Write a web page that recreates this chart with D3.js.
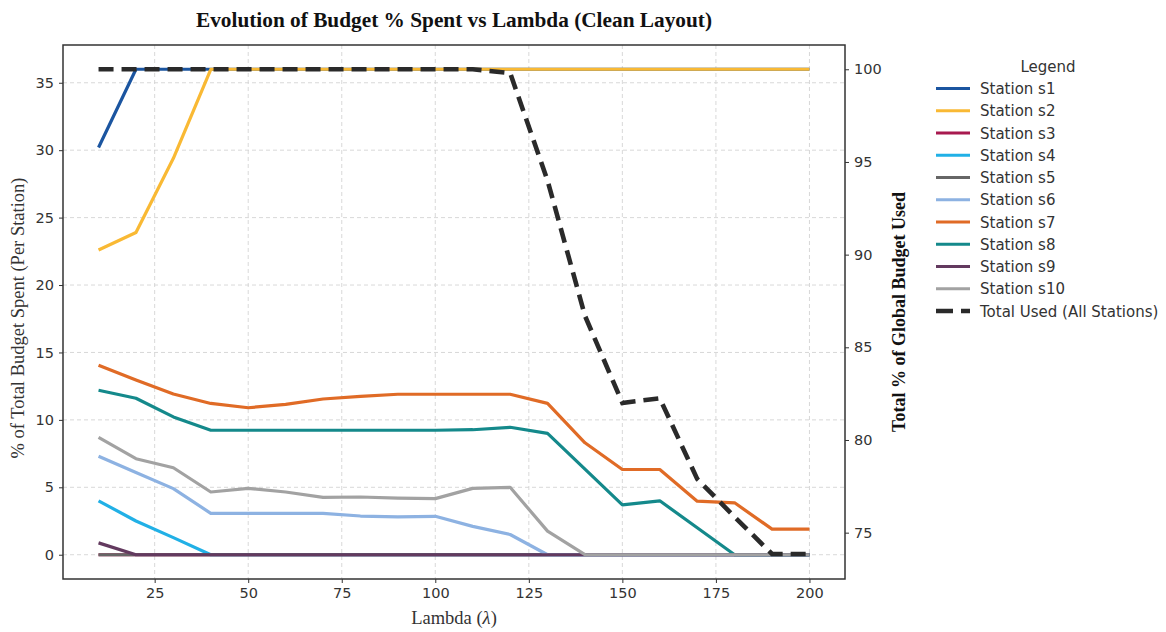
<!DOCTYPE html>
<html>
<head>
<meta charset="utf-8">
<script src="https://cdn.jsdelivr.net/npm/d3@7"></script>
<style>
  html, body { margin: 0; padding: 0; background: #fff; }
  svg { display: block; }
  .tick text { font-family: "DejaVu Sans", sans-serif; font-size: 14.5px; fill: #333; }
</style>
</head>
<body>
<svg id="chart" width="1166" height="632"></svg>
<script>
// Lambda sweep values (x axis)
const lambdas = [10, 20, 30, 40, 50, 60, 70, 80, 90, 100, 110, 120, 130, 140, 150, 160, 170, 180, 190, 200];

// % of total budget spent per station
const s1  = [30.2, 36, 36, 36, 36, 36, 36, 36, 36, 36, 36, 36, 36, 36, 36, 36, 36, 36, 36, 36];
const s2  = [22.6, 23.9, 29.4, 36, 36, 36, 36, 36, 36, 36, 36, 36, 36, 36, 36, 36, 36, 36, 36, 36];
const s3  = [0, 0, 0, 0, 0, 0, 0, 0, 0, 0, 0, 0, 0, 0, 0, 0, 0, 0, 0, 0];
const s4  = [4.0, 2.5, 1.27, 0, 0, 0, 0, 0, 0, 0, 0, 0, 0, 0, 0, 0, 0, 0, 0, 0];
const s5  = [0, 0, 0, 0, 0, 0, 0, 0, 0, 0, 0, 0, 0, 0, 0, 0, 0, 0, 0, 0];
const s6  = [7.3, 6.1, 4.9, 3.07, 3.07, 3.07, 3.07, 2.87, 2.8, 2.85, 2.1, 1.5, 0, 0, 0, 0, 0, 0, 0, 0];
const s7  = [14.05, 12.95, 11.92, 11.22, 10.9, 11.15, 11.55, 11.75, 11.9, 11.9, 11.9, 11.9, 11.22, 8.3, 6.32, 6.32, 3.97, 3.85, 1.9, 1.9];
const s8  = [12.2, 11.6, 10.22, 9.23, 9.23, 9.23, 9.23, 9.23, 9.23, 9.23, 9.27, 9.45, 9.0, 6.35, 3.7, 4.0, 2.0, 0, 0, 0];
const s9  = [0.88, 0, 0, 0, 0, 0, 0, 0, 0, 0, 0, 0, 0, 0, 0, 0, 0, 0, 0, 0];
const s10 = [8.7, 7.12, 6.45, 4.65, 4.92, 4.65, 4.25, 4.28, 4.2, 4.16, 4.92, 5.0, 1.75, 0, 0, 0, 0, 0, 0, 0];

// Total % of global budget used (right axis)
const totalUsed = [100, 100, 100, 100, 100, 100, 100, 100, 100, 100, 100, 99.8, 94.0, 86.7, 82.0, 82.25, 77.9, 75.85, 73.85, 73.85];

const stationNames = ["Station s1", "Station s2", "Station s3", "Station s4", "Station s5",
                      "Station s6", "Station s7", "Station s8", "Station s9", "Station s10"];
const stationSeries = [s1, s2, s3, s4, s5, s6, s7, s8, s9, s10];
const stationColors = ["#1b55a0", "#f9b934", "#a8194f", "#21b0e6", "#666666",
                       "#8db2e2", "#e06b26", "#14898b", "#633a5f", "#a2a2a2"];
const totalLabel = "Total Used (All Stations)";

const xTicks = [25, 50, 75, 100, 125, 150, 175, 200];
const yLeftTicks = [0, 5, 10, 15, 20, 25, 30, 35];
const yRightTicks = [75, 80, 85, 90, 95, 100];

const svg = d3.select("#chart");
const plot = { left: 63, right: 845, top: 45, bottom: 579 };

const x = d3.scaleLinear().domain([0.5, 209.5]).range([plot.left, plot.right]);
const yL = d3.scaleLinear().domain([-1.8, 37.8]).range([plot.bottom, plot.top]);
const yR = d3.scaleLinear().domain([72.5, 101.31]).range([plot.bottom, plot.top]);

// grid
const grid = svg.append("g").attr("stroke", "#d4d4d4").attr("stroke-width", 0.9)
  .attr("stroke-dasharray", "4,3");
grid.selectAll("line.v").data(xTicks).join("line")
  .attr("x1", d => x(d)).attr("x2", d => x(d))
  .attr("y1", plot.top).attr("y2", plot.bottom);
grid.selectAll("line.h").data(yLeftTicks).join("line")
  .attr("x1", plot.left).attr("x2", plot.right)
  .attr("y1", d => yL(d)).attr("y2", d => yL(d));

// station lines
const line = d3.line().x((d, i) => x(lambdas[i])).y(d => yL(d));
stationSeries.forEach((vals, k) => {
  svg.append("path").datum(vals)
    .attr("fill", "none")
    .attr("stroke", stationColors[k])
    .attr("stroke-width", 3.2)
    .attr("stroke-linejoin", "round")
    .attr("d", line);
});

// total line on the right axis
const totalLine = d3.line().x((d, i) => x(lambdas[i])).y(d => yR(d));
svg.append("path").datum(totalUsed)
  .attr("fill", "none")
  .attr("stroke", "#2a2a2a")
  .attr("stroke-width", 4.6)
  .attr("stroke-dasharray", "15,8")
  .attr("d", totalLine);

// axes
const axisX = d3.axisBottom(x).tickValues(xTicks).tickSize(4).tickPadding(5);
const axisL = d3.axisLeft(yL).tickValues(yLeftTicks).tickSize(4).tickPadding(5);
const axisR = d3.axisRight(yR).tickValues(yRightTicks).tickSize(4).tickPadding(5);

function styleAxis(g) {
  g.select(".domain").remove();
  g.selectAll(".tick line").attr("stroke", "#333").attr("stroke-width", 1);
}
svg.append("g").attr("transform", `translate(0,${plot.bottom})`).call(axisX).call(styleAxis);
svg.append("g").attr("transform", `translate(${plot.left},0)`).call(axisL).call(styleAxis);
svg.append("g").attr("transform", `translate(${plot.right},0)`).call(axisR).call(styleAxis);

// frame
svg.append("rect")
  .attr("x", plot.left).attr("y", plot.top)
  .attr("width", plot.right - plot.left).attr("height", plot.bottom - plot.top)
  .attr("fill", "none").attr("stroke", "#333").attr("stroke-width", 1.5);

// title and axis labels
svg.append("text")
  .attr("x", (plot.left + plot.right) / 2).attr("y", 27)
  .attr("text-anchor", "middle")
  .attr("font-family", "'Liberation Serif', serif").attr("font-weight", "bold")
  .attr("font-size", 22).attr("fill", "#111")
  .attr("textLength", 516).attr("lengthAdjust", "spacingAndGlyphs")
  .text("Evolution of Budget % Spent vs Lambda (Clean Layout)");

const xl = svg.append("text")
  .attr("x", (plot.left + plot.right) / 2).attr("y", 624)
  .attr("text-anchor", "middle")
  .attr("font-family", "'Liberation Serif', serif")
  .attr("font-size", 18.5).attr("fill", "#333");
xl.append("tspan").text("Lambda (");
xl.append("tspan").attr("font-style", "italic").text("λ");
xl.append("tspan").text(")");

svg.append("text")
  .attr("transform", `translate(24,318) rotate(-90)`)
  .attr("text-anchor", "middle")
  .attr("font-family", "'Liberation Serif', serif")
  .attr("font-size", 18.5).attr("fill", "#333")
  .text("% of Total Budget Spent (Per Station)");

svg.append("text")
  .attr("transform", `translate(905,312) rotate(-90)`)
  .attr("text-anchor", "middle")
  .attr("font-family", "'Liberation Serif', serif").attr("font-weight", "bold")
  .attr("font-size", 18).attr("fill", "#111")
  .text("Total % of Global Budget Used");

// legend
const legend = svg.append("g").attr("font-family", "'DejaVu Sans', sans-serif");
legend.append("text")
  .attr("x", 1048).attr("y", 72).attr("text-anchor", "middle")
  .attr("font-size", 15).attr("fill", "#333").text("Legend");

const legendItems = stationNames.map((n, i) => ({ name: n, color: stationColors[i], dash: null, w: 3.2 }))
  .concat([{ name: totalLabel, color: "#2a2a2a", dash: "17,8", w: 4.6 }]);
const rowY = d3.scaleLinear().domain([0, 10]).range([88.5, 311]);
const rows = legend.selectAll("g.row").data(legendItems).join("g")
  .attr("transform", (d, i) => `translate(0,${rowY(i)})`);
rows.append("line")
  .attr("x1", 936).attr("x2", 970).attr("y1", 0).attr("y2", 0)
  .attr("stroke", d => d.color).attr("stroke-width", d => d.w)
  .attr("stroke-dasharray", d => d.dash);
rows.append("text")
  .attr("x", 980).attr("y", 5.5)
  .attr("font-size", 15).attr("fill", "#333")
  .text(d => d.name);
</script>
</body>
</html>
